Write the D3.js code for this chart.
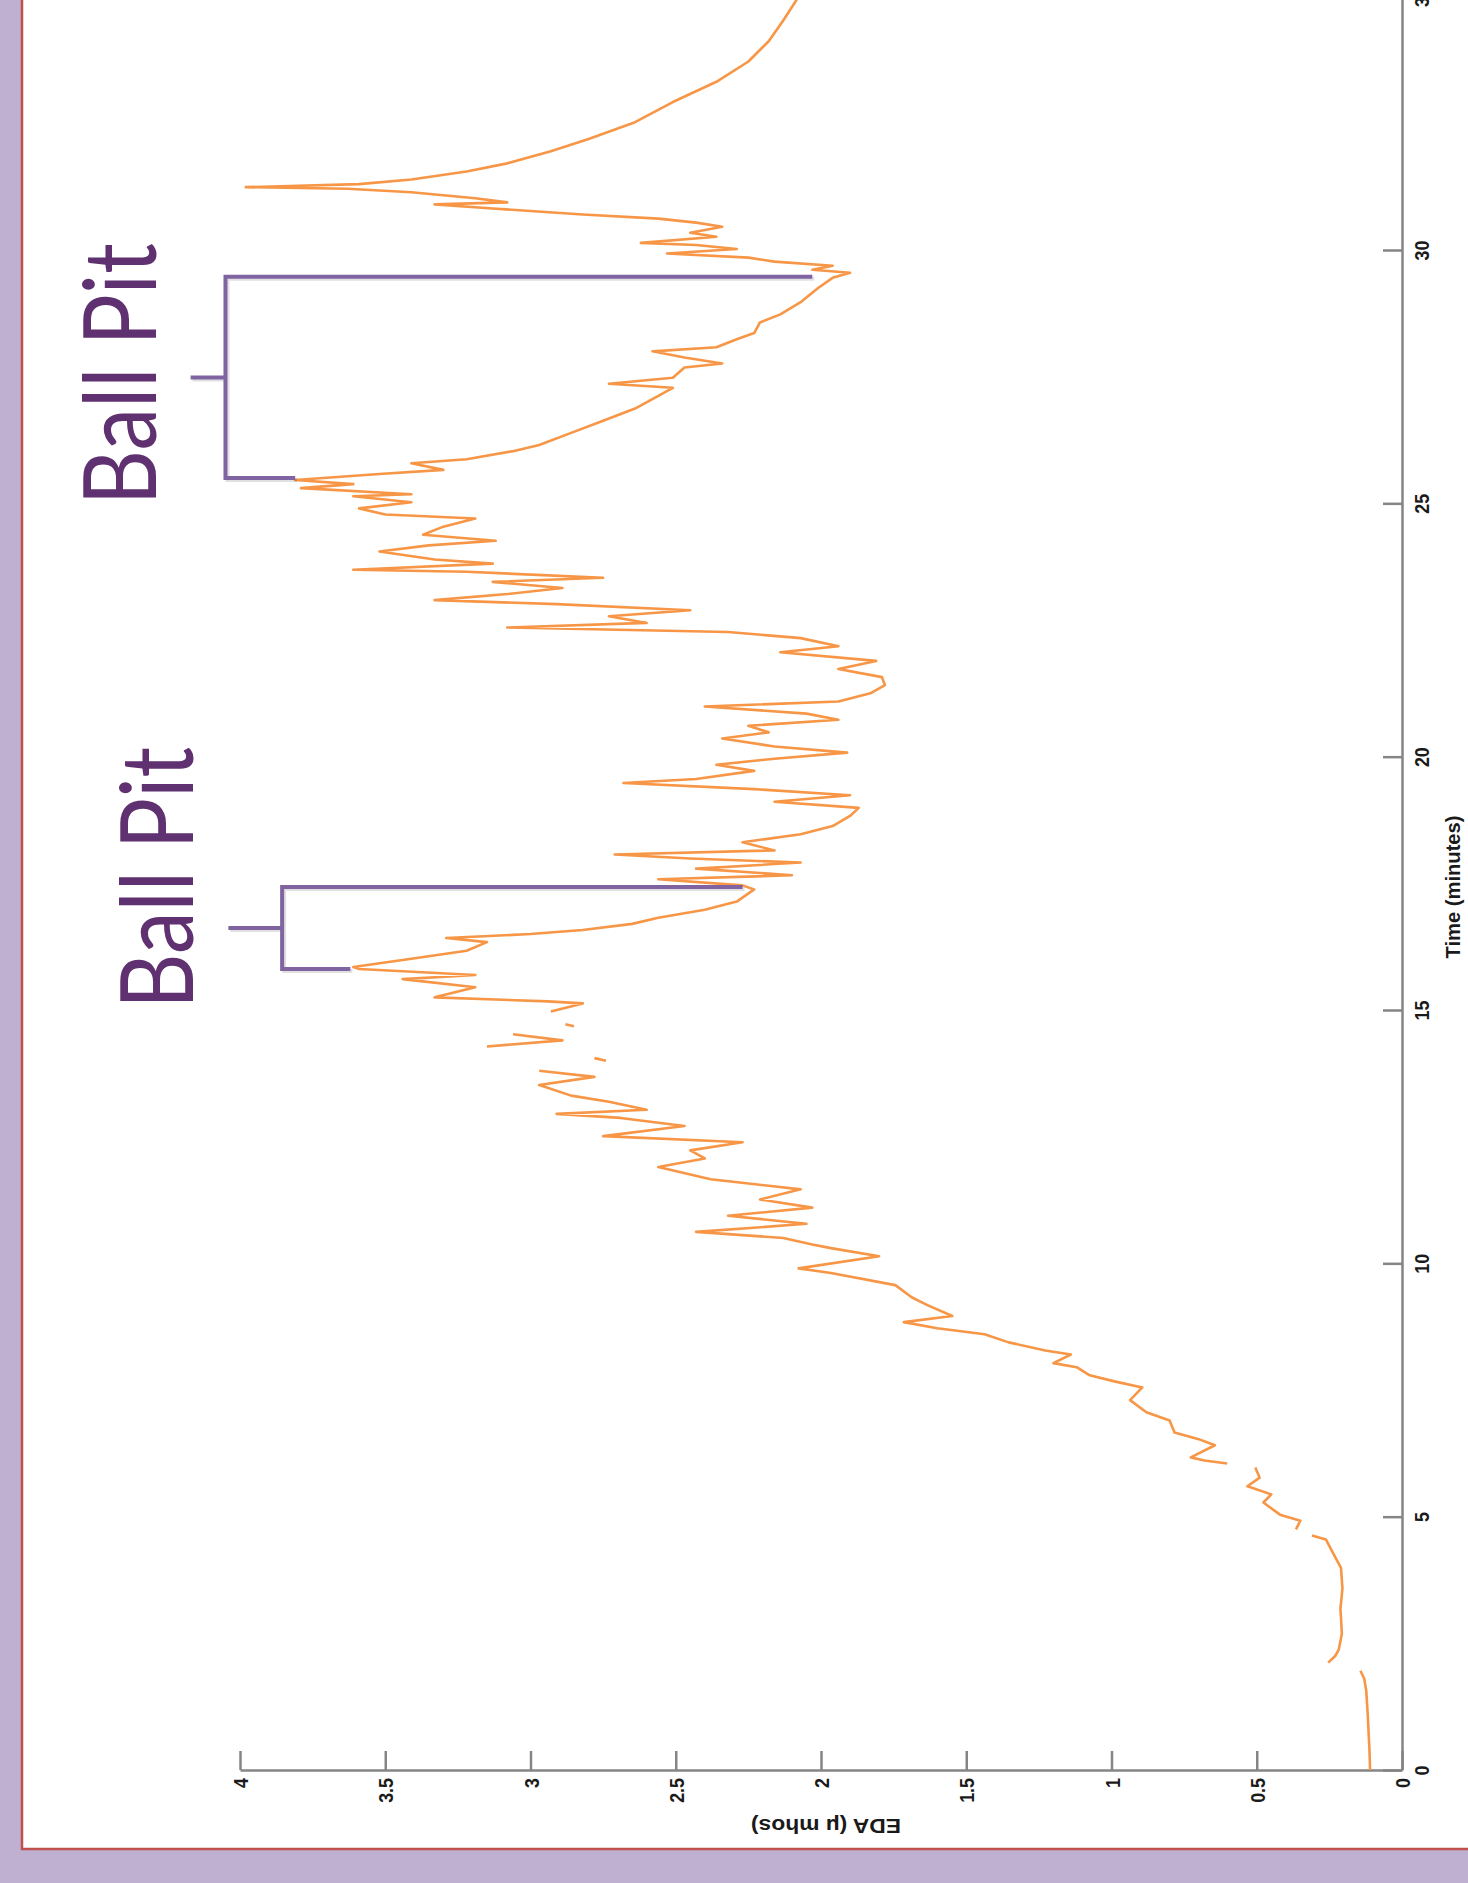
<!DOCTYPE html>
<html>
<head>
<meta charset="utf-8">
<script src="https://cdn.jsdelivr.net/npm/d3@7"></script>
<style>
  html, body { margin: 0; padding: 0; background: #bfb0d1; overflow: hidden; }
  svg { display: block; }
</style>
</head>
<body>
<div class="chart-container"></div>
<script>
// EDA trace (null = gap in the recording)
var timeMin = [
  0, 0.4, 0.75, 1.1, 1.56, 1.8, 1.96, 2.04,
  2.12, 2.25, 2.37, 2.69, 3.0, 3.18, 3.58, 3.99, 4.31, 4.55, 4.63, 4.69,
  4.75, 4.92, 5.04, 5.28, 5.44, 5.6, 5.77, 5.97, 6.01,
  6.05, 6.11, 6.17, 6.41, 6.53, 6.66, 6.9, 7.06, 7.3, 7.55, 7.67, 7.79, 7.95,
  8.03, 8.2, 8.28, 8.44, 8.6, 8.72, 8.84, 8.96, 9.17, 9.33, 9.57, 9.81, 9.9,
  10.14, 10.3, 10.37, 10.5, 10.62, 10.78, 10.94, 11.1, 11.26, 11.46, 11.66, 11.9,
  12.07, 12.23, 12.39, 12.51, 12.71, 12.87, 12.95, 13.03, 13.19, 13.31, 13.52,
  13.68, 13.8, 13.9, 14.0, 14.05, 14.15, 14.28, 14.4, 14.52, 14.6, 14.68, 14.72, 14.85,
  14.97, 15.13, 15.17, 15.25, 15.45, 15.61, 15.69, 15.81, 15.85, 16.01, 16.17,
  16.34, 16.42, 16.5, 16.58, 16.7, 16.82, 16.98, 17.14, 17.38, 17.46, 17.58,
  17.66, 17.79, 17.91, 17.99, 18.07, 18.15, 18.31, 18.47, 18.63, 18.83, 18.99,
  19.11, 19.24, 19.36, 19.48, 19.56, 19.72, 19.84, 19.96, 20.08, 20.2, 20.36,
  20.48, 20.61, 20.73, 20.85, 20.99, 21.09, 21.25, 21.41, 21.57, 21.73, 21.89,
  22.06, 22.18, 22.34, 22.46, 22.55, 22.64, 22.77, 22.89, 23.01, 23.09, 23.21,
  23.33, 23.45, 23.53, 23.65, 23.69, 23.81, 23.89, 24.05, 24.17, 24.26, 24.38,
  24.54, 24.7, 24.78, 24.9, 25.02, 25.14, 25.18, 25.3, 25.38, 25.46, 25.58,
  25.66, 25.79, 25.87, 26.03, 26.15, 26.39, 26.63, 26.87, 27.12, 27.28, 27.36,
  27.48, 27.68, 27.76, 27.88, 28.0, 28.08, 28.24, 28.36, 28.57, 28.73, 28.97,
  29.25, 29.45, 29.55, 29.61, 29.69, 29.77, 29.85, 29.93, 30.02, 30.1, 30.14,
  30.26, 30.34, 30.46, 30.54, 30.62, 30.7, 30.82, 30.9, 30.94, 31.02, 31.14,
  31.21, 31.24, 31.3, 31.39, 31.55, 31.71, 31.95, 32.19, 32.51, 32.92, 33.32,
  33.72, 34.12, 34.53, 34.93, 35.1
];
var edaValues = [
  0.11, 0.112, 0.115, 0.118, 0.123, 0.13, 0.143, null,
  0.254, 0.23, 0.218, 0.207, 0.21, 0.212, 0.205, 0.21, 0.24, 0.262, 0.31, null,
  0.365, 0.35, 0.42, 0.477, 0.45, 0.532, 0.49, 0.505, null,
  0.602, 0.68, 0.727, 0.644, 0.70, 0.783, 0.80, 0.88, 0.936, 0.894, 0.99, 1.075, 1.12,
  1.2, 1.14, 1.228, 1.354, 1.437, 1.60, 1.715, 1.548, 1.632, 1.688, 1.744, 1.966, 2.077,
  1.8, 1.966, 2.03, 2.13, 2.43, 2.05, 2.32, 2.03, 2.21, 2.07, 2.38, 2.56,
  2.40, 2.45, 2.27, 2.75, 2.47, 2.69, 2.91, 2.60, 2.73, 2.86, 2.97,
  2.78, 2.97, null, 2.74, 2.78, null, 3.15, 2.89, 3.06, null, 2.85, 2.88, null,
  2.93, 2.82, 2.94, 3.33, 3.19, 3.44, 3.19, 3.59, 3.61, 3.41, 3.22,
  3.15, 3.29, 3.0, 2.82, 2.65, 2.56, 2.40, 2.29, 2.23, 2.27, 2.56,
  2.10, 2.43, 2.07, 2.45, 2.71, 2.16, 2.27, 2.07, 1.96, 1.90, 1.87,
  2.16, 1.90, 2.23, 2.68, 2.43, 2.23, 2.36, 2.16, 1.91, 2.16, 2.34,
  2.18, 2.25, 1.94, 2.05, 2.40, 1.94, 1.83, 1.78, 1.79, 1.94, 1.81,
  2.14, 1.94, 2.07, 2.32, 3.08, 2.60, 2.73, 2.45, 2.91, 3.33, 3.08,
  2.89, 3.13, 2.75, 3.22, 3.61, 3.13, 3.33, 3.52, 3.35, 3.12, 3.37,
  3.30, 3.19, 3.50, 3.59, 3.41, 3.61, 3.41, 3.79, 3.61, 3.81, 3.52,
  3.30, 3.41, 3.22, 3.06, 2.97, 2.86, 2.75, 2.64, 2.56, 2.51, 2.73,
  2.51, 2.47, 2.34, 2.47, 2.58, 2.36, 2.29, 2.23, 2.21, 2.14, 2.07,
  2.01, 1.96, 1.90, 2.03, 1.96, 2.16, 2.25, 2.53, 2.29, 2.43, 2.62,
  2.36, 2.45, 2.34, 2.43, 2.56, 2.82, 3.13, 3.33, 3.08, 3.19, 3.41,
  3.63, 3.98, 3.59, 3.41, 3.22, 3.08, 2.93, 2.80, 2.645, 2.51, 2.36,
  2.25, 2.18, 2.13, 2.085, 2.07
];

var edaTicks = [0, 0.5, 1, 1.5, 2, 2.5, 3, 3.5, 4];
var timeTicks = [0, 5, 10, 15, 20, 25, 30, 35];

// "Ball Pit" annotations: [start, end] in minutes, EDA where each arm stops
var bracketTimes = [[25.5, 29.47], [15.81, 17.43]];
var bracketArmEda = [[3.81, 2.03], [3.62, 2.27]];
var bracketSpineEda = [4.05, 3.855];
var bracketStubEda = [4.17, 4.04];
var labelTimes = [27.55, 17.61];
var labelTexts = ['Ball Pit', 'Ball Pit'];

var width = 1468, height = 1883;

var svg = d3.select('.chart-container').append('svg')
    .attr('width', width)
    .attr('height', height);

// slide background: white panel with a red rule
svg.append('rect')
    .attr('x', 22).attr('y', -10)
    .attr('width', width).attr('height', 1859)
    .attr('fill', '#fff')
    .attr('stroke', '#c0504d')
    .attr('stroke-width', 2.5);

// figure is rotated: time runs up, EDA runs to the left
var x = d3.scaleLinear().domain([0, 4]).range([1402, 240]);
var y = d3.scaleLinear().domain([0, 30]).range([1770, 250]);

var edaAxis = d3.axisBottom(x)
    .tickValues(edaTicks)
    .tickSizeInner(-19)
    .tickSizeOuter(0)
    .tickFormat(String);

var timeAxis = d3.axisRight(y.copy().domain([0, 35]).range([1770, y(35)]))
    .tickValues(timeTicks)
    .tickSizeInner(-19)
    .tickSizeOuter(0)
    .tickFormat(String);

var gx = svg.append('g')
    .attr('class', 'x axis')
    .attr('transform', 'translate(0,1770)')
    .call(edaAxis);

var gy = svg.append('g')
    .attr('class', 'y axis')
    .attr('transform', 'translate(1402,0)')
    .call(timeAxis);

svg.selectAll('.axis')
    .attr('font-family', '"Liberation Sans", Arial, sans-serif')
    .attr('font-size', 21)
    .attr('font-weight', 'bold');
svg.selectAll('.axis path, .axis line')
    .attr('stroke', '#858585')
    .attr('stroke-width', 2.5);
svg.selectAll('.axis text').attr('fill', '#1a1a1a');

gx.selectAll('.tick text')
    .attr('x', 0).attr('y', 0)
    .attr('dy', '0.36em')
    .attr('text-anchor', 'end')
    .attr('transform', 'translate(0,8) rotate(-90) scale(0.85,1)');

gy.selectAll('.tick text')
    .attr('x', 0).attr('y', 0)
    .attr('dy', 0)
    .attr('text-anchor', 'middle')
    .attr('transform', 'translate(27,0) rotate(-90) scale(0.85,1)');

// axis titles
svg.append('text')
    .attr('transform', 'translate(1460,887) rotate(-90)')
    .attr('text-anchor', 'middle')
    .attr('font-family', '"Liberation Sans", Arial, sans-serif')
    .attr('font-weight', 'bold')
    .attr('font-size', 20)
    .attr('textLength', 143)
    .attr('lengthAdjust', 'spacingAndGlyphs')
    .attr('fill', '#1a1a1a')
    .text('Time (minutes)');

svg.append('text')
    .attr('transform', 'translate(826,1819) rotate(180)')
    .attr('text-anchor', 'middle')
    .attr('font-family', '"Liberation Sans", Arial, sans-serif')
    .attr('font-weight', 'bold')
    .attr('font-size', 20)
    .attr('textLength', 150)
    .attr('lengthAdjust', 'spacingAndGlyphs')
    .attr('fill', '#1a1a1a')
    .text('EDA (\u03bc mhos)');

// the trace
var points = d3.zip(timeMin, edaValues).map(function (d) {
  return { t: d[0], v: d[1] };
});

var line = d3.line()
    .defined(function (d) { return d.v != null; })
    .x(function (d) { return x(d.v); })
    .y(function (d) { return y(d.t); });

svg.append('path')
    .datum(points)
    .attr('fill', 'none')
    .attr('stroke', '#f79646')
    .attr('stroke-width', 2.6)
    .attr('stroke-linejoin', 'round')
    .attr('d', line);

// brackets
function bracketPath(i, dx, dy) {
  var t0 = bracketTimes[i][0], t1 = bracketTimes[i][1];
  var sx = x(bracketSpineEda[i]) + dx;
  var mid = y((t0 + t1) / 2) + dy;
  return 'M' + (x(bracketArmEda[i][1]) + dx) + ',' + (y(t1) + dy) +
    'H' + sx + 'V' + (y(t0) + dy) + 'H' + (x(bracketArmEda[i][0]) + dx) +
    'M' + sx + ',' + mid + 'H' + (x(bracketStubEda[i]) + dx);
}

var brackets = svg.append('g');
bracketTimes.forEach(function (d, i) {
  brackets.append('path')
      .attr('d', bracketPath(i, 2, 2))
      .attr('fill', 'none')
      .attr('stroke', '#000')
      .attr('stroke-opacity', 0.12)
      .attr('stroke-width', 4);
  brackets.append('path')
      .attr('d', bracketPath(i, 0, 0))
      .attr('fill', 'none')
      .attr('stroke', '#8064a2')
      .attr('stroke-width', 4);
});

svg.selectAll('.label')
    .data(labelTexts)
    .enter().append('text')
    .attr('class', 'label')
    .attr('transform', function (d, i) {
      return 'translate(' + (x(bracketStubEda[i]) - 35) + ',' + y(labelTimes[i]) + ') rotate(-90)';
    })
    .attr('text-anchor', 'middle')
    .attr('font-family', 'Lato, "Open Sans", sans-serif')
    .attr('font-size', 100)
    .attr('textLength', 262)
    .attr('lengthAdjust', 'spacingAndGlyphs')
    .attr('fill', '#5f3170')
    .text(function (d) { return d; });
</script>
</body>
</html>
